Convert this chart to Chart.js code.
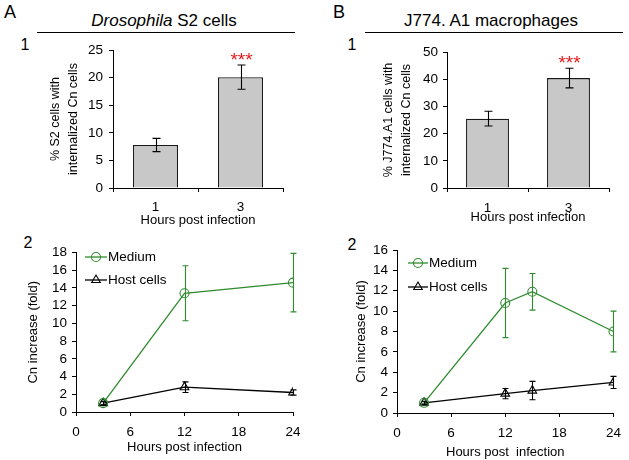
<!DOCTYPE html>
<html>
<head>
<meta charset="utf-8">
<title>Cn internalization and growth</title>
<script src="https://cdn.jsdelivr.net/npm/chart.js@4.4.1/dist/chart.umd.min.js"></script>
<style>
    html, body { margin: 0; padding: 0; background: #fff; }
    #fig { position: relative; width: 629px; height: 460px; overflow: hidden;
           font-family: "Liberation Sans", Arial, sans-serif; color: #000; }
    #fig canvas { position: absolute; }
    .lbl { position: absolute; transform: translate(-50%, -50%); line-height: 1; white-space: nowrap; }
    .rule { position: absolute; height: 0; border-top: 1.5px solid #000; }
</style>
</head>
<body>
<div id="fig">
    <span class="lbl" style="left:10px;top:12px;font-size:18px">A</span>
    <span class="lbl" style="left:164px;top:20px;font-size:17px"><i>Drosophila</i> S2 cells</span>
    <div class="rule" style="left:37px;top:32px;width:258px"></div>
    <span class="lbl" style="left:339px;top:12px;font-size:18px">B</span>
    <span class="lbl" style="left:491px;top:20px;font-size:17px">J774. A1 macrophages</span>
    <div class="rule" style="left:365px;top:32px;width:258px"></div>

    <span class="lbl" style="left:25px;top:45px;font-size:16px">1</span>
    <span class="lbl" style="left:352px;top:45px;font-size:16px">1</span>
    <span class="lbl" style="left:28px;top:243px;font-size:16px">2</span>
    <span class="lbl" style="left:352px;top:245px;font-size:16px">2</span>

    <canvas id="chart-a1" width="300" height="194" style="left:0;top:36px"></canvas>
    <canvas id="chart-b1" width="319" height="194" style="left:310px;top:36px"></canvas>
    <canvas id="chart-a2" width="310" height="224" style="left:0;top:236px"></canvas>
    <canvas id="chart-b2" width="319" height="224" style="left:310px;top:236px"></canvas>
</div>
<script>
(function () {
    'use strict';

    // ---- values ----
    const barCats = ['1', '3'];
    const barStars = ['', '***'];
    const s2Pct = [7.8, 20.1];
    const s2Err = [1.2, 2.2];
    const j774Pct = [25.5, 40.4];
    const j774Err = [2.7, 3.6];

    const hourTicks = [0, 6, 12, 18, 24];

    const hoursA = [3, 12, 24];
    const mediumA = [1.0, 13.4, 14.6];
    const mediumAErr = [0.15, 3.1, 3.3];
    const hostA = [1.0, 2.8, 2.2];
    const hostAErr = [0.2, 0.6, 0.3];

    const hoursB = [3, 12, 15, 24];
    const mediumB = [1.0, 10.8, 11.9, 8.0];
    const mediumBErr = [0.1, 3.4, 1.8, 2.0];
    const hostB = [1.0, 1.9, 2.2, 3.0];
    const hostBErr = [0.15, 0.5, 0.9, 0.6];

    const FONT = '"Liberation Sans", Arial, sans-serif';
    const GREEN = '#2e8b2e';
    const RED = '#e31a1c';

    Chart.defaults.font.family = FONT;
    Chart.defaults.color = '#000';

    function valueOf(d) {
        return (d !== null && typeof d === 'object') ? d.y : d;
    }

    // vertical error bars + significance stars, placed with the chart's own scales
    const errorBars = {
        id: 'errorBars',
        afterDatasetsDraw(chart) {
            const ctx = chart.ctx;
            const yScale = chart.scales.y;
            chart.data.datasets.forEach((ds, i) => {
                if (!ds.errors) return;
                const meta = chart.getDatasetMeta(i);
                ctx.save();
                ctx.strokeStyle = ds.errorColor || '#000';
                ctx.lineWidth = 1.1;
                meta.data.forEach((el, j) => {
                    const v = valueOf(ds.data[j]);
                    const e = ds.errors[j] || 0;
                    const x = Math.round(el.x) + 0.5;
                    const top = yScale.getPixelForValue(v + e);
                    const bot = yScale.getPixelForValue(v - e);
                    const c = ds.capHalf || 3;
                    ctx.beginPath();
                    ctx.moveTo(x, top); ctx.lineTo(x, bot);
                    ctx.moveTo(x - c, top); ctx.lineTo(x + c, top);
                    ctx.moveTo(x - c, bot); ctx.lineTo(x + c, bot);
                    ctx.stroke();
                    if (ds.stars && ds.stars[j]) {
                        ctx.fillStyle = RED;
                        ctx.font = '19px ' + FONT;
                        ctx.textAlign = 'center';
                        ctx.textBaseline = 'alphabetic';
                        ctx.fillText(ds.stars[j], x, top + 1);
                    }
                });
                ctx.restore();
            });
        }
    };

    // Excel-style key: short line with the marker on it, then the series name
    const seriesKey = {
        id: 'seriesKey',
        afterDraw(chart, args, opts) {
            if (!opts || opts.len === undefined) return;
            const { ctx, chartArea } = chart;
            chart.data.datasets.forEach((ds, i) => {
                const x = chartArea.left + opts.left;
                const y = chartArea.top + opts.top + i * opts.rowGap;
                ctx.save();
                ctx.strokeStyle = ds.borderColor;
                ctx.lineWidth = ds.borderWidth;
                ctx.beginPath();
                ctx.moveTo(x, y); ctx.lineTo(x + opts.len, y);
                ctx.stroke();
                ctx.fillStyle = 'rgba(0,0,0,0)';
                ctx.lineWidth = ds.pointBorderWidth;
                Chart.helpers.drawPoint(ctx, {
                    pointStyle: ds.pointStyle, radius: ds.pointRadius,
                    rotation: 0, borderWidth: ds.pointBorderWidth
                }, x + opts.len / 2, y);
                ctx.fillStyle = '#000';
                ctx.font = '13.5px ' + FONT;
                ctx.textAlign = 'left';
                ctx.textBaseline = 'middle';
                ctx.fillText(ds.label, x + opts.len + 1, y);
                ctx.restore();
            });
        }
    };

    const axisGrid = { display: true, drawOnChartArea: false, drawTicks: true, tickLength: 4, color: '#000', lineWidth: 1 };
    const axisBorder = { display: true, color: '#000', width: 1 };

    function barChart(id, values, errors, o) {
        return new Chart(document.getElementById(id), {
            type: 'bar',
            data: {
                labels: barCats,
                datasets: [{
                    data: values,
                    errors: errors,
                    stars: barStars,
                    capHalf: 4,
                    backgroundColor: '#c8c8c8',
                    borderColor: '#1a1a1a',
                    borderWidth: 1.3,
                    categoryPercentage: 1,
                    barPercentage: 0.53
                }]
            },
            options: {
                responsive: false,
                animation: false,
                layout: { padding: o.pad },
                plugins: { legend: { display: false }, tooltip: { enabled: false } },
                scales: {
                    x: {
                        grid: axisGrid,
                        border: axisBorder,
                        ticks: { padding: o.xTickPad, font: { size: 13.5 } },
                        title: { display: true, text: 'Hours post infection', font: { size: 13 }, padding: 0 },
                        afterFit: s => { s.height = o.xH; }
                    },
                    y: {
                        min: 0,
                        max: o.yMax,
                        ticks: { stepSize: o.yStep, padding: o.yTickPad, autoSkip: false, font: { size: 13.5 } },
                        grid: axisGrid,
                        border: axisBorder,
                        title: {
                            display: true, text: o.yTitle,
                            font: { size: 12.5, lineHeight: 1.4 },
                            padding: { top: o.yTitlePad, bottom: 0 }
                        },
                        afterFit: s => { s.width = o.yW; }
                    }
                }
            },
            plugins: [errorBars]
        });
    }

    function pts(xs, ys) {
        return xs.map((x, i) => ({ x: x, y: ys[i] }));
    }

    function lineChart(id, hours, medium, mediumErr, host, hostErr, o) {
        return new Chart(document.getElementById(id), {
            type: 'line',
            data: {
                datasets: [{
                    label: 'Medium',
                    data: pts(hours, medium),
                    errors: mediumErr,
                    errorColor: GREEN,
                    borderColor: GREEN,
                    borderWidth: 1.3,
                    pointStyle: 'circle',
                    pointRadius: 4.5,
                    pointBorderWidth: 1.1,
                    pointBorderColor: GREEN,
                    pointBackgroundColor: 'rgba(0,0,0,0)',
                    tension: 0
                }, {
                    label: 'Host cells',
                    data: pts(hours, host),
                    errors: hostErr,
                    errorColor: '#000',
                    borderColor: '#000',
                    borderWidth: 1.3,
                    pointStyle: 'triangle',
                    pointRadius: 5,
                    pointBorderWidth: 1.1,
                    pointBorderColor: '#000',
                    pointBackgroundColor: 'rgba(0,0,0,0)',
                    tension: 0
                }]
            },
            options: {
                responsive: false,
                animation: false,
                layout: { padding: o.pad },
                plugins: {
                    legend: { display: false },
                    tooltip: { enabled: false },
                    seriesKey: o.key
                },
                scales: {
                    x: {
                        type: 'linear',
                        min: 0,
                        max: 24,
                        afterBuildTicks: s => { s.ticks = hourTicks.map(v => ({ value: v })); },
                        grid: axisGrid,
                        border: axisBorder,
                        ticks: { padding: o.xTickPad, autoSkip: false, font: { size: 13.5 } },
                        title: { display: true, text: o.xTitle, font: { size: 13 }, padding: 0 },
                        afterFit: s => { s.height = o.xH; }
                    },
                    y: {
                        min: 0,
                        max: o.yMax,
                        ticks: { stepSize: 2, padding: 5, autoSkip: false, font: { size: 13.5 } },
                        grid: axisGrid,
                        border: axisBorder,
                        title: {
                            display: true, text: 'Cn increase (fold)',
                            font: { size: 13 },
                            padding: { top: o.yTitlePad, bottom: 0 }
                        },
                        afterFit: s => { s.width = o.yW; }
                    }
                }
            },
            plugins: [errorBars, seriesKey]
        });
    }

    barChart('chart-a1', s2Pct, s2Err, {
        pad: { left: 0, right: 17, top: 14, bottom: 2 },
        xH: 40, xTickPad: 7, yW: 113, yTickPad: 6,
        yMax: 25, yStep: 5, yTitlePad: 47,
        yTitle: ['% S2 cells with', 'internalized Cn cells']
    });

    barChart('chart-b1', j774Pct, j774Err, {
        pad: { left: 0, right: 20, top: 16, bottom: 5 },
        xH: 37, xTickPad: 8, yW: 137, yTickPad: 5,
        yMax: 50, yStep: 10, yTitlePad: 70,
        yTitle: ['% J774.A1 cells with', 'internalized Cn cells']
    });

    lineChart('chart-a2', hoursA, mediumA, mediumAErr, hostA, hostAErr, {
        pad: { left: 0, right: 17, top: 16.5, bottom: 5 },
        xH: 43, xTickPad: 8, yW: 76, yMax: 18, yTitlePad: 26,
        xTitle: 'Hours post infection',
        key: { left: 9, top: 4.5, rowGap: 23, len: 22 }
    });

    lineChart('chart-b2', hoursB, mediumB, mediumBErr, hostB, hostBErr, {
        pad: { left: 0, right: 10, top: 14, bottom: 0 },
        xH: 47, xTickPad: 8, yW: 87, yMax: 16, yTitlePad: 44,
        xTitle: 'Hours post  infection',
        key: { left: 11, top: 13, rowGap: 24, len: 20 }
    });
})();
</script>
</body>
</html>
